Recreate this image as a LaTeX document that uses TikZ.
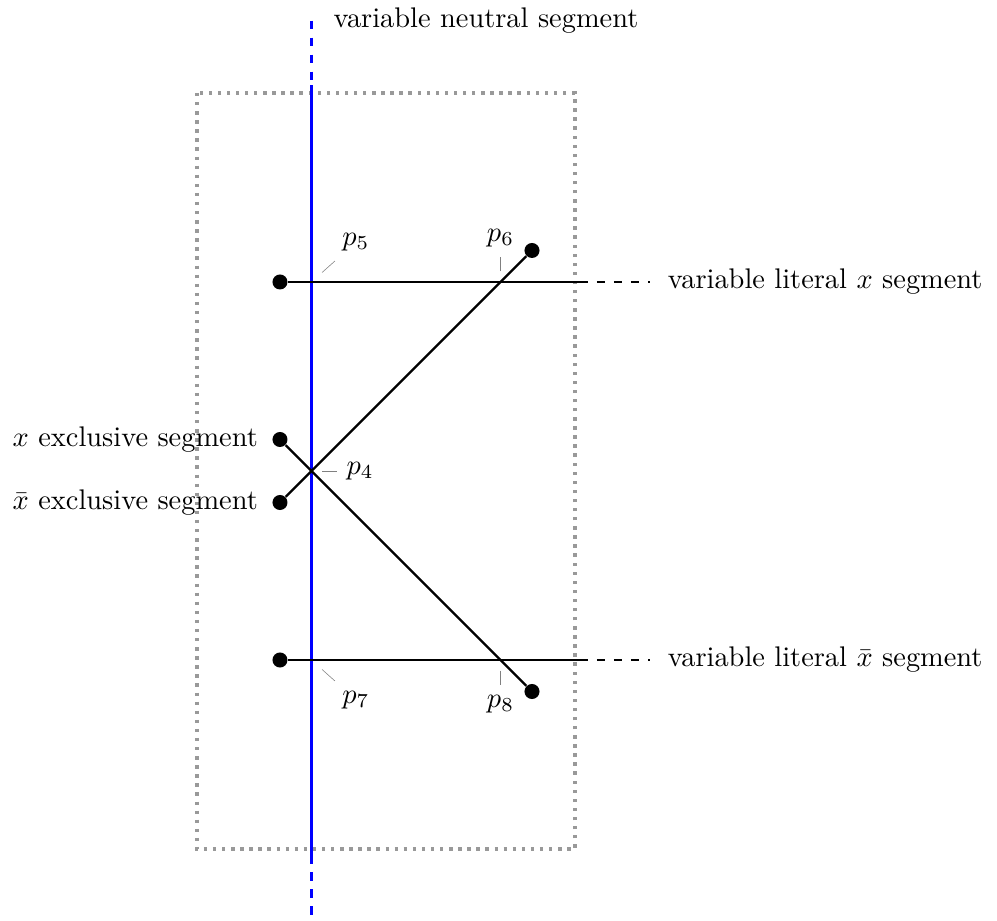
\documentclass[tikz,border=0pt]{standalone}
\usepackage{amsmath,amssymb}
\usepackage{tikz}
\usetikzlibrary{positioning}
\tikzset{
  seg/.style={draw=black, line width=0.8pt},
  segext/.style={seg, dashed},
  neutral/.style={draw=blue, line width=0.75pt},
  neutralext/.style={neutral, dashed},
  gadget/.style={draw=black!40, line width=1.2pt, dotted},
  endpt/.style={circle, fill=black, inner sep=0pt, minimum size=1.86mm},
  cross/.style={rectangle, inner sep=0pt, minimum size=2.5mm}
}

\begin{document}
\begin{tikzpicture}[x=0.78cm, y=0.78cm, pin distance=1.8mm]
    \useasboundingbox (-4.444,4.476) rectangle (11.381,-10.127);

    % Gadget frame.
    \draw[gadget] (-1.32,3) rectangle (4.68,-9);

    % Variable neutral segment, running top to bottom.
    \coordinate (ntop) at (0.5,4.15);
    \coordinate (nA) at (0.5,3.12);
    \coordinate (nB) at (0.5,-9.1);
    \coordinate (nbot) at (0.5,-10.05);
    \draw[neutralext] (ntop) -- (nA);
    \draw[neutral] (nA) -- (nB);
    \draw[neutralext] (nB) -- (nbot);
    \node[anchor=west, right=1.5mm of ntop] (nlab) {variable neutral segment};

    % Variable literal segments.
    \node[endpt] (lx) at (0,0) {};
    \coordinate (lxend) at (4.76,0);
    \coordinate (lxfar) at (5.87,0);
    \draw[seg] (lx) -- (lxend);
    \draw[segext] (lxend) -- (lxfar);
    \node[right=1mm of lxfar] (lxlab) {variable literal $x$ segment};

    \node[endpt] (lnx) at (0,-6) {};
    \coordinate (lnxend) at (4.76,-6);
    \coordinate (lnxfar) at (5.87,-6);
    \draw[seg] (lnx) -- (lnxend);
    \draw[segext] (lnxend) -- (lnxfar);
    \node[right=1mm of lnxfar] (lnxlab) {variable literal $\bar{x}$ segment};

    % Exclusive segments, crossing at p4.
    \node[endpt] (ex) at (0,-2.5) {};
    \node[endpt] (exend) at (4,-6.5) {};
    \draw[seg] (ex) -- (exend);
    \node[left=0.5mm of ex] (exlab) {$x$ exclusive segment};

    \node[endpt] (enx) at (0,-3.5) {};
    \node[endpt] (enxend) at (4,0.5) {};
    \draw[seg] (enx) -- (enxend);
    \node[left=0.5mm of enx] (enxlab) {$\bar{x}$ exclusive segment};

    % Crossing points.
    \node[cross, pin=0:$p_4$] (p4) at (0.5,-3) {};
    \node[cross, pin=45:$p_5$] (p5) at (0.5,0) {};
    \node[cross, pin=90:$p_6$] (p6) at (3.5,0) {};
    \node[cross, pin=-45:$p_7$] (p7) at (0.5,-6) {};
    \node[cross, pin=-90:$p_8$] (p8) at (3.5,-6) {};
  \end{tikzpicture}
\end{document}
